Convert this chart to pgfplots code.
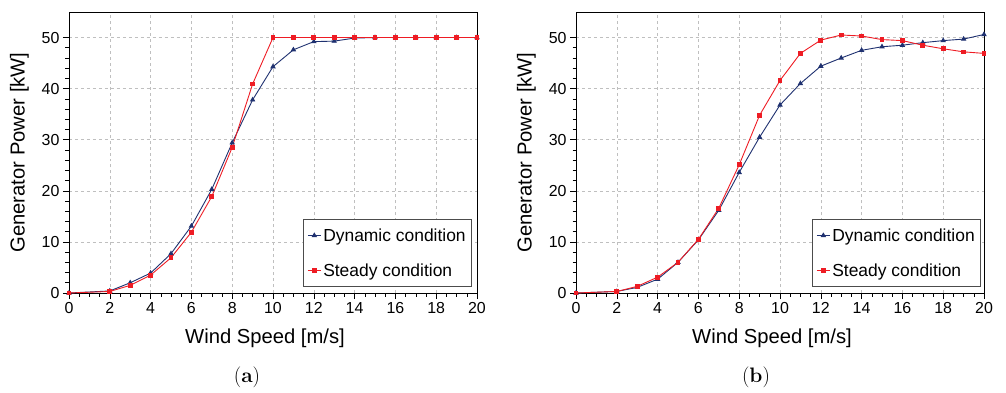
\documentclass[border=0pt]{standalone}
\usepackage{pgfplots}
\pgfplotsset{compat=1.18}
\usepackage{fontspec}
\setsansfont{Liberation Sans}
\definecolor{navy}{HTML}{1F3170}
\definecolor{myred}{HTML}{EE1C24}
\pgfplotstableread{
x dyn st
0 0 0
2 0.4 0.3
3 2.0 1.5
4 3.9 3.5
5 7.7 6.9
6 13.1 11.9
7 20.3 18.9
8 29.4 28.5
9 37.8 40.9
10 44.3 50.0
11 47.6 50.0
12 49.2 50.0
13 49.3 50.0
14 49.9 50.0
15 50.0 50.0
16 50.0 50.0
17 50.0 50.0
18 50.0 50.0
19 50.0 50.0
20 50.0 50.0
}\dataA
\pgfplotstableread{
x dyn st
0 0 0
2 0.3 0.3
3 1.1 1.3
4 2.7 3.1
5 6.0 6.0
6 10.4 10.5
7 16.2 16.6
8 23.6 25.1
9 30.5 34.8
10 36.8 41.6
11 41.0 46.9
12 44.4 49.5
13 46.0 50.5
14 47.5 50.3
15 48.2 49.6
16 48.5 49.4
17 49.0 48.5
18 49.4 47.8
19 49.7 47.2
20 50.6 46.9
}\dataB
\pgfplotsset{pw/.style={
  scale only axis, width=408bp, height=281bp,
  xmin=0, xmax=20, ymin=0, ymax=55,
  xtick={0,2,...,20}, ytick={0,10,...,50},
  minor x tick num=3, minor y tick num=4,
  tick align=outside, major tick length=6bp, minor tick length=3.5bp,
  tick style={black, line width=0.6pt},
  xtick pos=bottom, ytick pos=left,
  grid=major, major grid style={gray!50, dashed, line width=0.5pt},
  axis line style={line width=0.8pt},
  /pgf/number format/assume math mode=true,
  ticklabel style={font=\sffamily\fontsize{16}{18}\selectfont},
  label style={font=\sffamily\fontsize{20.3}{24}\selectfont},
  xlabel={Wind Speed [m/s]}, ylabel={Generator Power [kW]},
  xlabel style={yshift=-8bp, xshift=-8bp}, ylabel style={yshift=6bp},
  legend cell align=left,
  legend style={font=\sffamily\fontsize{17.5}{21}\selectfont, draw=black!70, line width=0.8pt, fill=white,
    row sep=17bp, inner xsep=4bp, inner ysep=7bp},
  legend image code/.code={\draw[mark repeat=2,mark phase=2] plot coordinates {(0cm,0cm)(0.23cm,0cm)(0.46cm,0cm)};},
  dyn/.style={navy, line width=0.9pt, mark=triangle*, mark size=2.3bp},
  st/.style={myred, line width=0.9pt, mark=square*, mark size=1.9bp},
}}
\begin{document}
\begin{tikzpicture}
\path[use as bounding box] (-69bp,-100bp) rectangle (937bp,293bp);
\begin{axis}[pw, legend style={at={(0.988,0.021)}, anchor=south east}]
\addplot[dyn] table[x=x,y=dyn]{\dataA};
\addlegendentry{Dynamic condition}
\addplot[st] table[x=x,y=st]{\dataA};
\addlegendentry{Steady condition}
\end{axis}
\begin{axis}[pw, xshift=507bp, legend style={at={(0.993,0.021)}, anchor=south east}]
\addplot[dyn] table[x=x,y=dyn]{\dataB};
\addlegendentry{Dynamic condition}
\addplot[st] table[x=x,y=st]{\dataB};
\addlegendentry{Steady condition}
\end{axis}
\node[font=\fontsize{21}{24}\selectfont] at (178bp,-84bp) {(\textbf{a})};
\node[font=\fontsize{21}{24}\selectfont] at (687bp,-84bp) {(\textbf{b})};
\end{tikzpicture}
\end{document}
